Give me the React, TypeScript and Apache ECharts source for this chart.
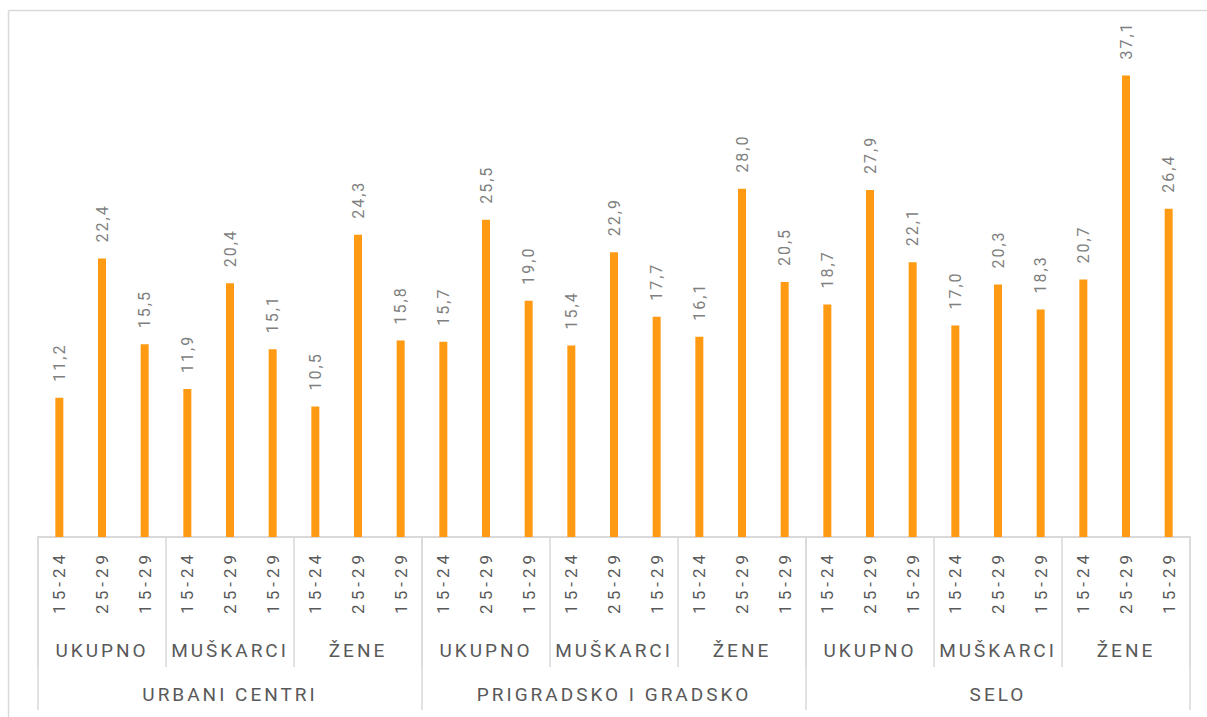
import React, { useEffect, useRef } from "react";
import * as echarts from "echarts";

const ageLabels = [
  "15-24", "25-29", "15-29",
  "15-24", "25-29", "15-29",
  "15-24", "25-29", "15-29",
  "15-24", "25-29", "15-29",
  "15-24", "25-29", "15-29",
  "15-24", "25-29", "15-29",
  "15-24", "25-29", "15-29",
  "15-24", "25-29", "15-29",
  "15-24", "25-29", "15-29",
];

const genderLabels = [
  "UKUPNO", "MUŠKARCI", "ŽENE",
  "UKUPNO", "MUŠKARCI", "ŽENE",
  "UKUPNO", "MUŠKARCI", "ŽENE",
];

const regionLabels = ["URBANI CENTRI", "PRIGRADSKO I GRADSKO", "SELO"];

const values = [
  11.2, 22.4, 15.5, 11.9, 20.4, 15.1, 10.5, 24.3, 15.8,
  15.7, 25.5, 19.0, 15.4, 22.9, 17.7, 16.1, 28.0, 20.5,
  18.7, 27.9, 22.1, 17.0, 20.3, 18.3, 20.7, 37.1, 26.4,
];

const FONT = "Roboto";
const GRID_COLOR = "#d9d9d9";

const css = `
#chart-root svg text[style*="16px"] { letter-spacing: 2px; }
#chart-root svg text[style*="17px"] { letter-spacing: 4px; }
#chart-root svg text[style*="19px"] { letter-spacing: 3px; }
`;

export default function App() {
  const ref = useRef<HTMLDivElement>(null);

  useEffect(() => {
    if (!ref.current) return;
    const chart = echarts.init(ref.current, null, { renderer: "svg" });
    chart.setOption({
      animation: false,
      backgroundColor: "#ffffff",
      textStyle: { fontFamily: FONT },
      graphic: [
        {
          type: "line",
          shape: { x1: 8.5, y1: 10.5, x2: 1207, y2: 10.5 },
          style: { stroke: GRID_COLOR, lineWidth: 1.5 },
        },
        {
          type: "line",
          shape: { x1: 8.5, y1: 10.5, x2: 8.5, y2: 717 },
          style: { stroke: GRID_COLOR, lineWidth: 1.5 },
        },
      ],
      grid: { left: 38, right: 17, top: 39.5, bottom: 180, containLabel: false },
      xAxis: [
        {
          type: "category",
          data: ageLabels,
          position: "bottom",
          axisLine: { show: true, lineStyle: { color: GRID_COLOR, width: 2 } },
          axisTick: { show: false },
          axisLabel: {
            interval: 0,
            rotate: 90,
            margin: 14,
            fontSize: 17,
            color: "#595959",
            fontFamily: FONT,
          },
        },
        {
          type: "category",
          data: genderLabels,
          position: "bottom",
          axisLine: { show: false },
          axisTick: {
            show: true,
            interval: 0,
            length: 130,
            lineStyle: { color: GRID_COLOR, width: 1.5 },
          },
          axisLabel: {
            interval: 0,
            margin: 104,
            fontSize: 19,
            color: "#595959",
            fontFamily: FONT,
          },
        },
        {
          type: "category",
          data: regionLabels,
          position: "bottom",
          axisLine: { show: false },
          axisTick: {
            show: true,
            interval: 0,
            length: 173,
            lineStyle: { color: GRID_COLOR, width: 1.5 },
          },
          axisLabel: {
            interval: 0,
            margin: 148,
            fontSize: 19,
            color: "#595959",
            fontFamily: FONT,
          },
        },
      ],
      yAxis: {
        type: "value",
        min: 0,
        max: 40,
        show: false,
        splitLine: { show: false },
      },
      series: [
        {
          type: "bar",
          xAxisIndex: 0,
          data: values,
          barWidth: 8,
          itemStyle: { color: "#ff9a12" },
          label: {
            show: true,
            position: "top",
            rotate: 90,
            align: "left",
            verticalAlign: "middle",
            distance: 16,
            fontSize: 16,
            color: "#7f7f7f",
            fontFamily: FONT,
            formatter: (p: any) => p.value.toFixed(1).replace(".", ","),
          },
        },
      ],
    });
    return () => chart.dispose();
  }, []);

  return (
    <>
      <style>{css}</style>
      <div
        id="chart-root"
        ref={ref}
        style={{ position: "fixed", left: 0, top: 0, width: 1207, height: 717 }}
      />
    </>
  );
}
